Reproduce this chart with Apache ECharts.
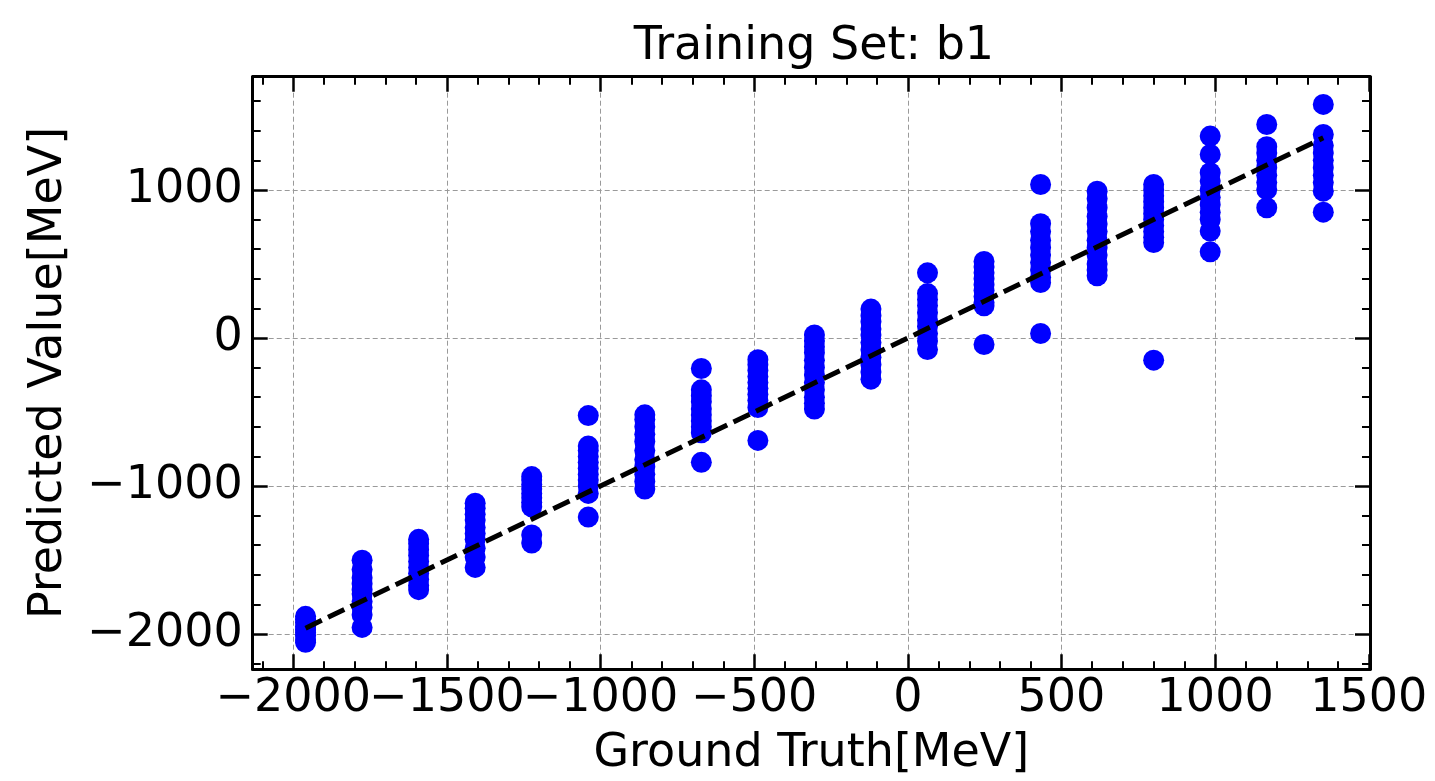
<!DOCTYPE html>
<html><head><meta charset="utf-8">
<script src="https://cdn.jsdelivr.net/npm/echarts@6.0.0/dist/echarts.min.js"></script>
<style>html,body{margin:0;padding:0;background:#fff}#c{width:1435px;height:781px}</style>
</head><body><div id="c"></div>
<script>
// Ground truth columns [MeV]
const groundTruth = [-1960, -1776, -1592, -1408, -1224, -1040, -856, -672, -488, -304, -120, 64, 248, 432, 616, 800, 984, 1168, 1352];
// Predicted values per ground-truth column [MeV]
const p01 = [-1880, -1900, -1920, -1950, -1970, -1990, -2010, -2040, -2055];
const p02 = [-1501, -1564, -1620, -1660, -1700, -1730, -1780, -1820, -1870, -1955];
const p03 = [-1360, -1390, -1430, -1470, -1510, -1550, -1590, -1630, -1670, -1700];
const p04 = [-1116, -1150, -1190, -1230, -1280, -1320, -1360, -1420, -1480, -1550];
const p05 = [-936, -960, -990, -1020, -1050, -1080, -1110, -1140, -1330, -1385];
const p06 = [-524, -730, -760, -800, -840, -880, -920, -960, -1000, -1050, -1210];
const p07 = [-519, -550, -600, -650, -700, -760, -820, -870, -920, -970, -1020];
const p08 = [-206, -350, -390, -430, -480, -520, -560, -600, -640, -840];
const p09 = [-147, -180, -220, -260, -300, -340, -380, -420, -470, -692];
const p10 = [20, -20, -60, -100, -150, -200, -250, -300, -350, -400, -440, -480];
const p11 = [195, 150, 110, 60, 20, -30, -80, -130, -180, -230, -278];
const p12 = [440, 300, 260, 220, 170, 120, 80, 30, -20, -78];
const p13 = [517, 480, 440, 400, 360, 320, 280, 240, 217, -44];
const p14 = [1037, 772, 720, 660, 610, 560, 510, 460, 410, 375, 30];
const p15 = [992, 940, 880, 820, 770, 720, 660, 610, 560, 500, 460, 420];
const p16 = [1037, 1000, 960, 920, 880, 840, 800, 760, 720, 680, 645, -150];
const p17 = [1364, 1240, 1116, 1060, 1000, 950, 900, 850, 800, 722, 582];
const p18 = [1442, 1292, 1250, 1200, 1150, 1100, 1050, 1003, 880];
const p19 = [1578, 1375, 1300, 1250, 1200, 1150, 1100, 1050, 992, 850];
// Ideal line y = x
const lineX = [-1960, 1352];
const lineY = [-1960, 1352];
// Tick labels
const xTickValues = [-2000, -1500, -1000, -500, 0, 500, 1000, 1500];
const yTickValues = [-2000, -1000, 0, 1000];

const predicted = [p01,p02,p03,p04,p05,p06,p07,p08,p09,p10,p11,p12,p13,p14,p15,p16,p17,p18,p19];
const scatterData = [];
groundTruth.forEach((gt, i) => predicted[i].forEach(v => scatterData.push([gt, v])));
const lineData = lineX.map((x, i) => [x, lineY[i]]);

const FONT = 'DejaVu Sans';
const fmt = ticks => v => ticks.includes(v) ? String(v).replace('-', '\u2212') : '';

function axis(dim, pos, min, max, step, ticks, main) {
  const a = {
    type: 'value', position: pos, min: min, max: max,
    minInterval: step, maxInterval: step,
    splitNumber: Math.round((max - min) / step),
    axisLine: { show: true, onZero: false, lineStyle: { color: '#000', width: 3 } },
    axisTick: { show: true, inside: true, length: 15, lineStyle: { color: '#000', width: 2.5 } },
    minorTick: { show: true, splitNumber: 5, length: 8, lineStyle: { color: '#000', width: 2 } },
    splitLine: { show: main, lineStyle: { color: '#9a9a9a', width: 1, type: [5, 3] } },
    axisLabel: { show: main, formatter: fmt(ticks), color: '#000', fontFamily: FONT, fontSize: 46,
                 margin: dim === 'x' ? 7 : 10, hideOverlap: false, showMinLabel: true, showMaxLabel: true }
  };
  if (main) {
    a.name = dim === 'x' ? 'Ground Truth[MeV]' : 'Predicted Value[MeV]';
    a.nameLocation = 'middle';
    a.nameGap = dim === 'x' ? 62 : 181;
    a.nameTextStyle = { color: '#000', fontFamily: FONT, fontSize: 46 };
  }
  return a;
}

const chart = echarts.init(document.getElementById('c'), null, { renderer: 'canvas' });
chart.setOption({
  backgroundColor: '#fff',
  animation: false,
  title: {
    text: 'Training Set: b1', left: 809, top: 19, textAlign: 'center',
    textStyle: { color: '#000', fontFamily: FONT, fontSize: 46, fontWeight: 'normal' }
  },
  grid: { left: 252.7, right: 65, top: 76.7, bottom: 111.7, containLabel: false, outerBoundsMode: 'none' },
  xAxis: [
    axis('x', 'bottom', -2132, 1504, 500, xTickValues, true),
    axis('x', 'top', -2132, 1504, 500, xTickValues, false)
  ],
  yAxis: [
    axis('y', 'left', -2238, 1765, 1000, yTickValues, true),
    axis('y', 'right', -2238, 1765, 1000, yTickValues, false)
  ],
  series: [
    { type: 'scatter', xAxisIndex: 0, yAxisIndex: 0, data: scatterData, symbol: 'circle', symbolSize: 21,
      itemStyle: { color: '#0000ff', opacity: 1 }, z: 3 },
    { type: 'line', xAxisIndex: 0, yAxisIndex: 0, data: lineData, symbol: 'none',
      lineStyle: { color: '#000', width: 5, type: [18, 7] }, z: 4 }
  ]
});
</script></body></html>
